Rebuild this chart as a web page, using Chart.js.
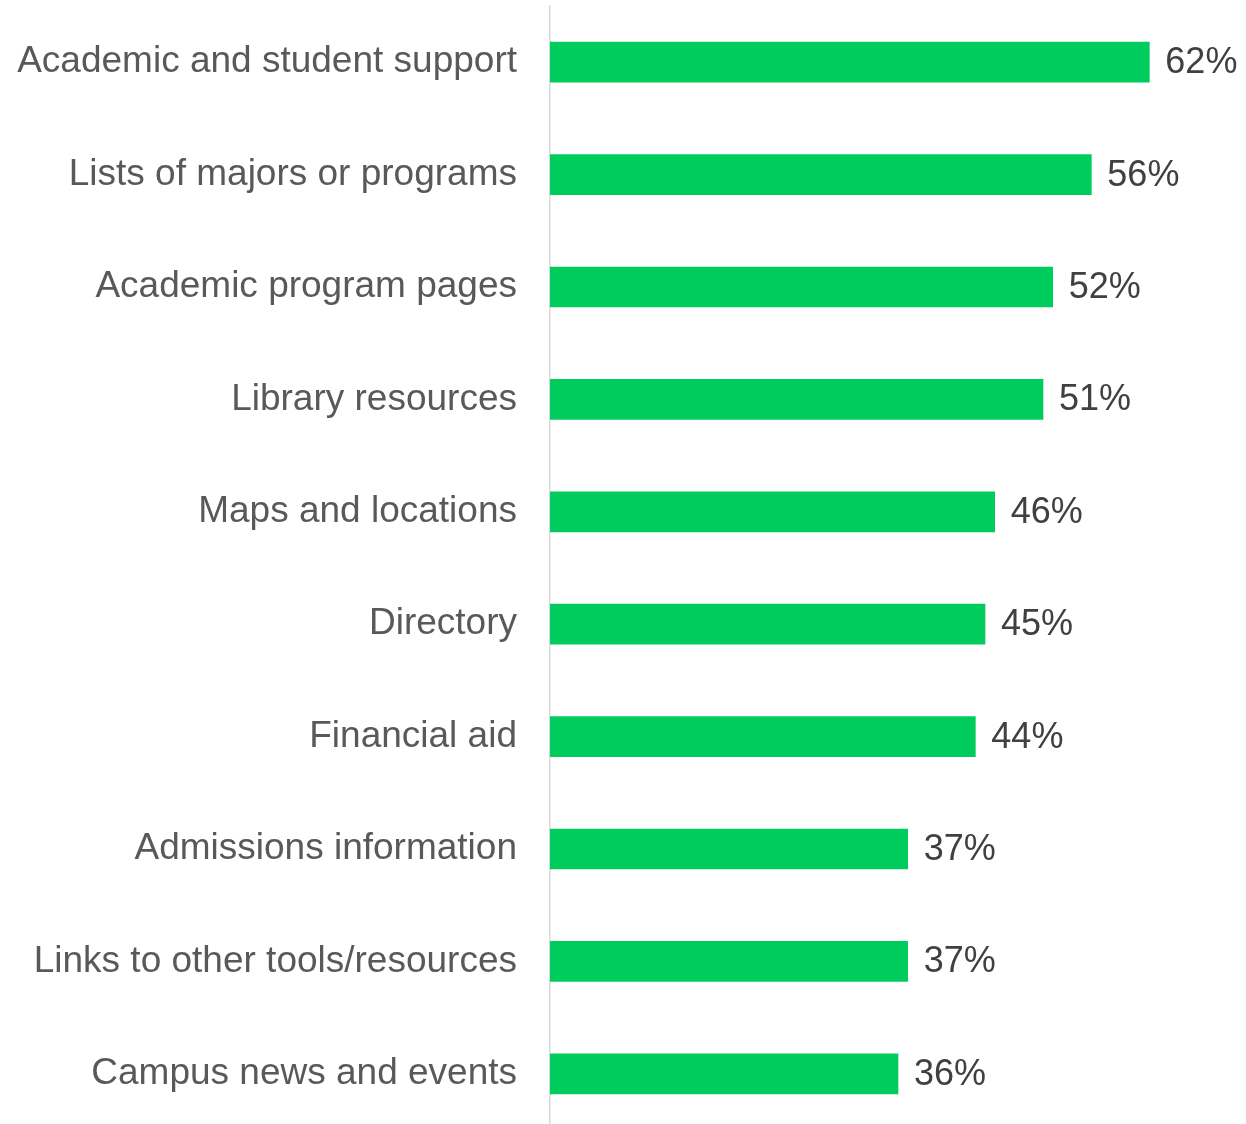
<!DOCTYPE html>
<html>
<head>
<meta charset="utf-8">
<script src="https://cdn.jsdelivr.net/npm/chart.js@4/dist/chart.umd.min.js"></script>
<style>
  html, body { margin: 0; padding: 0; background: #fff; overflow: hidden; }
  .wrap { width: 1246px; height: 1130px; position: relative; }
</style>
</head>
<body>
<div class="wrap"><canvas id="chartBar"></canvas></div>
<script>
const categories = [
    'Academic and student support',
    'Lists of majors or programs',
    'Academic program pages',
    'Library resources',
    'Maps and locations',
    'Directory',
    'Financial aid',
    'Admissions information',
    'Links to other tools/resources',
    'Campus news and events',
]
const shares = [62, 56, 52, 51, 46, 45, 44, 37, 37, 36]

const FONT = '"Liberation Sans", Arial, sans-serif'

// writes "NN%" just past the end of each bar
const valueLabels = {
    id: 'valueLabels',
    afterDatasetsDraw(chart) {
        const { ctx } = chart
        const meta = chart.getDatasetMeta(0)
        ctx.save()
        ctx.font = '36px ' + FONT
        ctx.fillStyle = '#404040'
        ctx.textAlign = 'left'
        ctx.textBaseline = 'middle'
        meta.data.forEach((bar, i) => {
            ctx.fillText(shares[i] + '%', bar.x + 16, bar.y + 1)
        })
        ctx.restore()
    },
}

const configBar = {
    type: 'bar',
    data: {
        labels: categories,
        datasets: [
            {
                data: shares,
                backgroundColor: 'rgb(0, 204, 94)',
                barThickness: 40,
            },
        ],
    },
    options: {
        indexAxis: 'y',
        responsive: true,
        maintainAspectRatio: false,
        animation: false,
        layout: { padding: { top: 6, right: 0, bottom: 0, left: 0 } },
        plugins: {
            legend: { display: false },
            tooltip: { enabled: false },
        },
        scales: {
            x: {
                display: false,
                min: 0,
                max: 72,
            },
            y: {
                grid: { display: false, drawTicks: false },
                border: { display: true, color: '#d9d9d9', width: 1.5 },
                ticks: {
                    padding: 33,
                    color: '#595959',
                    font: { family: FONT, size: 37 },
                },
                afterFit(scale) {
                    // fixed label column, no extra room above/below for the tick text
                    scale.width = 550
                    scale.paddingTop = 0
                    scale.paddingBottom = 0
                },
            },
        },
    },
    plugins: [valueLabels],
}

var chartBar = new Chart(document.getElementById('chartBar'), configBar)
</script>
</body>
</html>
